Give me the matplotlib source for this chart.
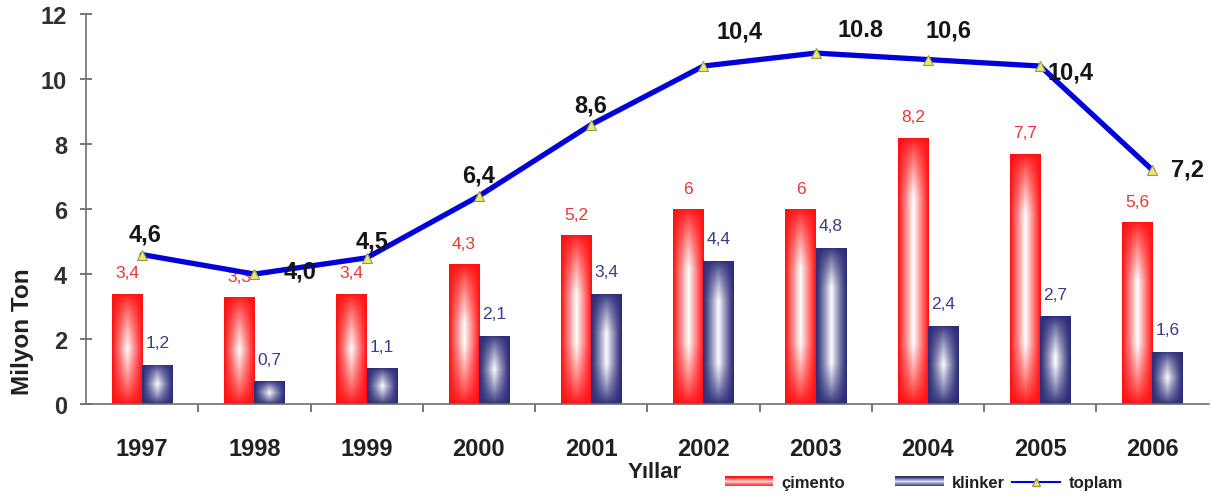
import matplotlib
matplotlib.use("Agg")
import matplotlib.pyplot as plt
import numpy as np
from matplotlib.legend_handler import HandlerBase
from matplotlib.patches import Rectangle
from matplotlib.lines import Line2D
from matplotlib.colors import to_rgb

plt.rcParams['font.family'] = ['Liberation Sans', 'DejaVu Sans']

# --- data ---
years = ['1997', '1998', '1999', '2000', '2001', '2002', '2003', '2004', '2005', '2006']
cimento = [3.4, 3.3, 3.4, 4.3, 5.2, 6.0, 6.0, 8.2, 7.7, 5.6]
klinker = [1.2, 0.7, 1.1, 2.1, 3.4, 4.4, 4.8, 2.4, 2.7, 1.6]
toplam = [4.6, 4.0, 4.5, 6.4, 8.6, 10.4, 10.8, 10.6, 10.4, 7.2]
cimento_labels = ['3,4', '3,3', '3,4', '4,3', '5,2', '6', '6', '8,2', '7,7', '5,6']
klinker_labels = ['1,2', '0,7', '1,1', '2,1', '3,4', '4,4', '4,8', '2,4', '2,7', '1,6']
toplam_labels = ['4,6', '4,0', '4,5', '6,4', '8,6', '10,4', '10.8', '10,6', '10,4', '7,2']

# label placement for the total line (points)
toplam_offsets = [(2, 15), (33, 2), (4, 12), (0, 15), (0, 14),
                  (26, 25), (32, 17), (15, 21), (22, -4), (25, 1)]

RED = to_rgb('#ff1010')
RED_CENTER = to_rgb('#ffffff')
NAVY = to_rgb('#2c2c78')
NAVY_CENTER = to_rgb('#ffffff')
PX_PER_UNIT = 32.5


def gradient_fill(ax, bar, edge, center, fade_px, power=1.0):
    """ paints a bar with a white-centred gradient, clipped to the bar """
    x0, y0 = bar.get_xy()
    w, h = bar.get_width(), bar.get_height()
    nx, ny = 60, 300
    u = np.abs(np.linspace(-1, 1, nx))
    hx = (1 - u) ** power
    d = np.linspace(0, h, ny) * PX_PER_UNIT
    d = np.minimum(d, h * PX_PER_UNIT - d)
    fade = min(fade_px, h * PX_PER_UNIT / 2)
    vy = np.clip(d / fade, 0, 1) ** 0.8
    white = vy[:, None] * hx[None, :]
    edge = np.array(edge)
    center = np.array(center)
    img = edge[None, None, :] + (center - edge)[None, None, :] * white[:, :, None]
    im = ax.imshow(img, extent=(x0, x0 + w, y0, y0 + h), origin='lower',
                   aspect='auto', interpolation='bilinear', zorder=2)
    im.set_clip_path(bar)


class GradientHandler(HandlerBase):
    def __init__(self, edge, center):
        super().__init__()
        self.edge = np.array(edge)
        self.center = np.array(center)

    def create_artists(self, legend, orig_handle, xdescent, ydescent,
                       width, height, fontsize, trans):
        n = 12
        out = []
        for k in range(n):
            v = abs(2 * (k + 0.5) / n - 1)
            c = self.edge + (self.center - self.edge) * (1 - v) ** 1.3
            r = Rectangle((-xdescent, -ydescent + height * k / n), width, height / n * 1.6,
                          facecolor=c, edgecolor='none', transform=trans,
                          antialiased=False)
            out.append(r)
        return out


fig = plt.figure(figsize=(12.11, 5.02), dpi=100)
ax = fig.add_axes([0.071, 0.193, 0.927, 0.777])

x = np.arange(len(years))
bw = 0.27
bars_c = ax.bar(x - bw / 2, cimento, bw, facecolor='none', edgecolor='none', zorder=2)
bars_k = ax.bar(x + bw / 2, klinker, bw, facecolor='none', edgecolor='none', zorder=2)
for b in bars_c:
    gradient_fill(ax, b, RED, RED_CENTER, 60, power=1.0)
for b in bars_k:
    gradient_fill(ax, b, NAVY, NAVY_CENTER, 40, power=1.2)

for xi, v, lab in zip(x, cimento, cimento_labels):
    ax.annotate(lab, (xi - bw / 2, v), xytext=(0, 15), textcoords='offset points',
                ha='center', va='center', fontsize=12.5, color='#e83838', zorder=3)
for xi, v, lab in zip(x, klinker, klinker_labels):
    ax.annotate(lab, (xi + bw / 2, v), xytext=(0, 16), textcoords='offset points',
                ha='center', va='center', fontsize=12.5, color='#3c3c88', zorder=3)

ax.plot(x, toplam, color='#0000d8', lw=3.8, marker='^', markersize=7,
        markerfacecolor='#e8e878', markeredgecolor='#9a9a40', markeredgewidth=0.8,
        zorder=5, solid_capstyle='round')
for xi, v, lab, off in zip(x, toplam, toplam_labels, toplam_offsets):
    ax.annotate(lab, (xi, v), xytext=off, textcoords='offset points',
                ha='center', va='center', fontsize=17, fontweight='bold',
                color='#151515', zorder=6)

ax.set_xlim(-0.5, len(years) - 0.5)
ax.set_ylim(0, 12)
ax.set_yticks(range(0, 13, 2))
ax.set_xticks(x)
ax.set_xticklabels(years)
ax.set_xticks(np.arange(0.5, len(years) - 0.5, 1), minor=True)

for s in ['top', 'right']:
    ax.spines[s].set_visible(False)
for s in ['left', 'bottom']:
    ax.spines[s].set_color('#707070')
    ax.spines[s].set_linewidth(1.2)

ax.tick_params(axis='x', which='major', length=0, pad=24, labelsize=17, colors='#202020')
ax.tick_params(axis='x', which='minor', length=6, direction='out', color='#606060', width=1.2)
ax.tick_params(axis='y', length=9, direction='inout', pad=9, labelsize=17,
               colors='#303030', color='#606060', width=1.2)
for t in ax.get_xticklabels() + ax.get_yticklabels():
    t.set_fontweight('bold')

fig.text(23 / 1211, 1 - 332 / 502, 'Milyon Ton', rotation=90, ha='center', va='center',
         fontsize=17.5, fontweight='bold', color='#202020')
fig.text(655 / 1211, 1 - 473 / 502, 'Yıllar', ha='center', va='center',
         fontsize=16, fontweight='bold', color='#202020')

# legend: bars and line in two pieces so the spacing matches the original
h_c = Rectangle((0, 0), 1, 1)
h_k = Rectangle((0, 0), 1, 1)
h_t = Line2D([], [], color='#0000d8', lw=1.5, marker='^', markersize=6,
             markerfacecolor='#e8e878', markeredgecolor='#9a9a40')
leg_kw = dict(frameon=False, fontsize=12, handlelength=2.9, handleheight=0.5,
              handletextpad=0.5, borderpad=0, borderaxespad=0)
leg1 = fig.legend([h_c, h_k], ['çimento', 'klinker'],
                  handler_map={h_c: GradientHandler(RED, (1.0, 0.93, 0.93)),
                               h_k: GradientHandler(NAVY, (0.95, 0.95, 1.0))},
                  loc='center left', bbox_to_anchor=(725 / 1211, 1 - 484 / 502), ncol=2,
                  columnspacing=3.0, **leg_kw)
leg2 = fig.legend([h_t], ['toplam'], loc='center left',
                  bbox_to_anchor=(1012 / 1211, 1 - 484 / 502), **leg_kw)
for leg in (leg1, leg2):
    for t in leg.get_texts():
        t.set_fontweight('bold')
        t.set_color('#202020')

fig.savefig('out.png', dpi=100, facecolor='white')
